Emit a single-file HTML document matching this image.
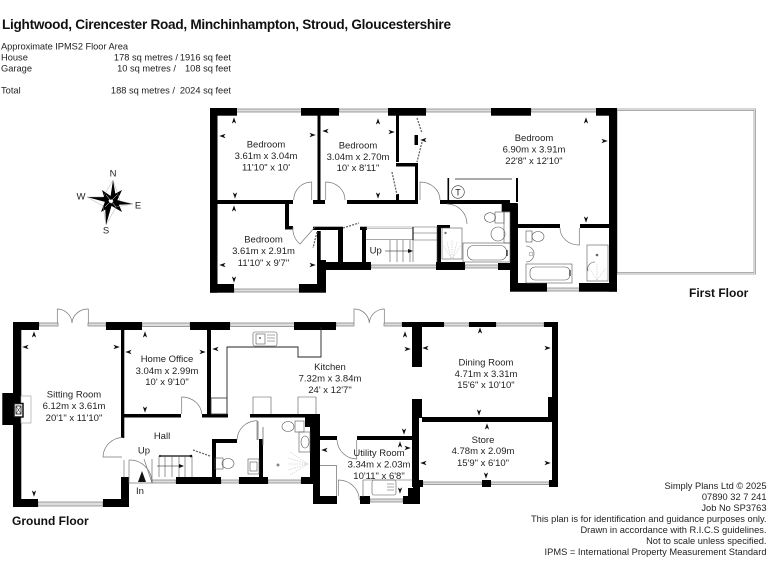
<!DOCTYPE html>
<html><head><meta charset="utf-8"><style>
html,body{margin:0;padding:0;background:#fff}
svg{display:block;filter:blur(.3px)}
text{font-family:"Liberation Sans",Arial,sans-serif;font-size:9.5px;fill:#222}
.c{text-anchor:middle}
.r{text-anchor:end}
.t{font-size:9.3px}
.b{font-weight:bold;fill:#111}
.w{fill:#000}
.win{fill:#ddd;stroke:#8a8a8a;stroke-width:.8}
.l{fill:none;stroke:#555;stroke-width:.6}
.d{fill:none;stroke:#777;stroke-width:.7}
.k{fill:none;stroke:#222;stroke-width:.9}
.ds{fill:none;stroke:#666;stroke-width:1.3;stroke-dasharray:2 1.2}
.ray{fill:none;stroke:#bbb;stroke-width:.5;stroke-dasharray:1.5 1}
</style></head><body>
<svg width="768" height="576" viewBox="0 0 768 576" xmlns="http://www.w3.org/2000/svg">
<rect width="768" height="576" fill="#fff"/>
<defs>
<path id="u" d="M-2.2 3.6L0 -2.8L2.2 3.6L0 1.9Z" fill="#111"/>
<path id="n" d="M-2.2 -3.6L0 2.8L2.2 -3.6L0 -1.9Z" fill="#111"/>
<path id="lf" d="M3.6 -2.2L-2.8 0L3.6 2.2L1.9 0Z" fill="#111"/>
<path id="rt" d="M-3.6 -2.2L2.8 0L-3.6 2.2L-1.9 0Z" fill="#111"/>
</defs>

<!-- header -->
<text x="2" y="29" class="b" style="font-size:13.6px;font-weight:bold" textLength="449" lengthAdjust="spacing">Lightwood, Cirencester Road, Minchinhampton, Stroud, Gloucestershire</text>
<text x="1" y="49.5" class="t" textLength="127">Approximate IPMS2 Floor Area</text>
<text x="1" y="60.5" class="t">House</text>
<text x="178" y="60.5" class="t r">178 sq metres /</text><text x="231" y="60.5" class="t r">1916 sq feet</text>
<text x="1" y="71.5" class="t">Garage</text>
<text x="176" y="71.5" class="t r">10 sq metres /</text><text x="231" y="71.5" class="t r">108 sq feet</text>
<text x="1" y="93.5" class="t">Total</text>
<text x="175" y="93.5" class="t r">188 sq metres /</text><text x="231" y="93.5" class="t r">2024 sq feet</text>

<!-- compass -->
<text x="113" y="176.5" class="c">N</text><text x="81" y="199.5" class="c">W</text><text x="138" y="208.5" class="c">E</text><text x="106" y="233.5" class="c">S</text>
<path d="M113 180L116 198L110 200ZM133 204L114 205L113 199ZM87 197L108 197L109 203ZM106 225L105 203L112 204Z" fill="#000"/>
<path d="M102 190L112 197L106 203ZM122 190L116 203L109 197ZM122 212L110 205L116 198ZM101 212L106 199L113 205Z" fill="#000"/>
<path d="M106 195L116 207M117 195L105 207" stroke="#fff" stroke-width=".5"/>
<path d="M113 180L120 201L133 204M87 197L103 206L106 225M113 180L103 197L87 197M133 204L116 207L106 225" fill="none" stroke="#999" stroke-width=".4"/>

<!-- terrace -->
<rect x="617" y="109" width="138.5" height="165" fill="none" stroke="#8a8a8a" stroke-width=".7"/>
<rect x="617" y="110.5" width="137" height="162" fill="none" stroke="#8a8a8a" stroke-width=".7"/>

<!-- FIRST FLOOR windows -->
<rect class="win" x="236" y="109" width="66" height="3"/>
<rect class="win" x="339" y="109" width="50" height="3"/>
<rect class="win" x="426" y="109" width="66" height="3"/>
<rect class="win" x="531" y="109" width="66" height="3"/>
<rect class="win" x="371" y="265" width="66" height="3"/>
<rect class="win" x="465" y="265" width="34" height="3"/>
<rect class="win" x="234" y="289" width="66" height="3"/>
<rect class="win" x="546" y="288" width="34" height="3"/>

<!-- FIRST FLOOR walls -->
<g class="w">
<rect x="210" y="108" width="27" height="7.7"/><rect x="301" y="108" width="38" height="7.7"/><rect x="388" y="108" width="38" height="7.7"/><rect x="491" y="108" width="40" height="7.7"/><rect x="596" y="108" width="21" height="7.7"/>
<rect x="210" y="108" width="7.5" height="184.7"/>
<rect x="609" y="108" width="8" height="183.7"/>
<rect x="210" y="284" width="24" height="8.7"/><rect x="299" y="284" width="27" height="8.7"/>
<rect x="510" y="283" width="37" height="8.7"/><rect x="579" y="283" width="38" height="8.7"/>
<rect x="510" y="263" width="8" height="28"/><rect x="510" y="204" width="8" height="62"/><rect x="501.7" y="203" width="16" height="8.7"/><rect x="498" y="263" width="20" height="7"/>
<rect x="518" y="224" width="42" height="4"/><rect x="580" y="224" width="29" height="4"/>
<rect x="447.5" y="178" width="1.6" height="24"/><rect x="516" y="178" width="2" height="24"/>
<rect x="440" y="200" width="70" height="4"/>
<rect x="210" y="200" width="83" height="4"/><rect x="313" y="200" width="12" height="4"/><rect x="347" y="200" width="71" height="4"/>
<rect x="317.5" y="115" width="3" height="85"/>
<rect x="396" y="115" width="3" height="47"/><rect x="396" y="163" width="22" height="3.5"/><rect x="415" y="163" width="3" height="41"/><rect x="396" y="194" width="3" height="6"/>
<rect x="414.5" y="135" width="3.5" height="10"/>
<rect x="285" y="204" width="4" height="25"/><rect x="285" y="226" width="8" height="3.5"/>
<rect x="313" y="226.7" width="30" height="3.3"/><rect x="360" y="226.7" width="7" height="3.3"/>
<rect x="317" y="231" width="3.7" height="30"/><rect x="317" y="260" width="9" height="32"/>
<rect x="338" y="230" width="5" height="33"/><rect x="362" y="228" width="4" height="35"/>
<rect x="320" y="262" width="51" height="8"/><rect x="436" y="262" width="29" height="8"/>
<rect x="437" y="225" width="4" height="37"/><rect x="437" y="225" width="13" height="3"/>
</g>

<!-- FIRST FLOOR doors -->
<path class="d" d="M311.7 200V182A18 18 0 0 0 293.7 200"/>
<path class="d" d="M325.7 200V182A19 18 0 0 1 345 200"/>
<path class="d" d="M420 200V182A20 18 0 0 1 440 200"/>
<path class="d" d="M447 204A20 20 0 0 1 467 224"/>
<path class="d" d="M293 227A19 19 0 0 0 300 244L315 227"/>
<path class="ds" d="M317 232L313 248M343 228L359 223M392 172L397 195M417 118L422 133M422 142L417 162"/>
<path class="d" d="M560 228A19 17 0 0 0 579.3 245V228"/>
<!-- wardrobe & T -->
<path d="M455 179H512" stroke="#777" stroke-width="1.2" fill="none"/>
<circle cx="458" cy="192" r="6.3" fill="#fff" stroke="#333" stroke-width=".6"/>
<text x="458" y="195.5" class="c" style="font-size:9px">T</text>
<!-- family bath sanitary -->
<rect class="l" x="463" y="243" width="47" height="19"/>
<rect class="l" x="467.5" y="245.5" width="39" height="14.5" rx="6"/>
<path d="M507 250v6" stroke="#333" stroke-width="1.4"/>
<rect class="l" x="495" y="212" width="9" height="11"/>
<ellipse class="l" cx="490" cy="217.5" rx="5.5" ry="4.8"/>
<rect class="l" x="504" y="212" width="6" height="31"/>
<circle class="l" cx="498" cy="234" r="7"/>
<rect class="l" x="442" y="228" width="20" height="31"/>
<circle cx="445.5" cy="233" r="1.2" fill="#777"/>
<path class="ray" d="M451 258L443 245M452 258V240M453 258L461 245M451 258L447 242M453 258L457 242"/>
<!-- ensuite sanitary -->
<rect class="l" x="526" y="231" width="6" height="11"/>
<ellipse class="l" cx="538" cy="236.5" rx="6" ry="5"/>
<path class="l" d="M526 246A8 8 0 0 1 526 262"/><circle cx="531" cy="254" r="2" fill="none" stroke="#777" stroke-width=".5"/>
<rect class="l" x="526" y="264" width="46" height="19"/>
<rect class="l" x="530" y="267" width="40" height="13" rx="5"/>
<path d="M570 270v6" stroke="#333" stroke-width="1.3"/>
<rect class="l" x="587" y="245" width="21" height="36"/>
<circle cx="597" cy="255" r="1.3" fill="#666"/>
<path class="l" d="M588 271A7 7 0 0 1 595 262"/>
<path class="ray" d="M597 280L589 268M597 280V264M597 280L606 268"/>
<!-- first stairs -->
<path d="M366 227H413M366 228.5H413" stroke="#888" stroke-width=".6"/>
<path class="l" d="M366 239.5H413M413 233H437M413 240H437M413 227H437"/>
<path d="M413 227V240" stroke="#333" stroke-width="1.3"/>
<path class="l" d="M390 240V262M397 240V262M403 240V262M410 240V262M437 227V262M413 240V262"/>
<path d="M385 251H411" stroke="#111" stroke-width=".6"/><path d="M408 249L413 251L408 253Z" fill="#111"/>
<text x="375.7" y="253.5" class="c">Up</text>

<!-- GROUND windows -->
<rect class="win" x="39" y="323" width="19" height="3"/><rect class="win" x="88" y="323" width="18" height="3"/>
<rect class="win" x="142" y="323" width="48" height="3.5"/>
<rect class="win" x="230" y="323" width="65" height="3.5"/>
<rect class="win" x="336" y="323" width="18" height="3"/><rect class="win" x="384" y="323" width="18" height="3"/>
<rect class="win" x="444" y="323" width="25" height="3"/><rect class="win" x="496" y="323" width="48" height="3"/>
<rect class="win" x="38" y="502" width="65" height="4"/>
<rect class="win" x="423" y="482" width="59" height="2.5"/><rect class="win" x="491" y="482" width="58" height="2.5"/>
<rect class="win" x="152" y="480" width="24" height="3"/>
<rect class="win" x="221" y="480" width="18" height="3"/>
<rect class="win" x="268" y="480" width="33" height="3"/>
<rect class="win" x="370" y="499" width="33" height="3"/>

<!-- GROUND walls -->
<g class="w">
<rect x="13" y="322" width="26" height="8"/><rect x="106" y="322" width="36" height="8"/><rect x="190" y="322" width="40" height="8"/><rect x="294" y="322" width="42" height="8"/>
<rect x="402" y="322" width="42" height="5"/><rect x="469" y="322" width="27" height="5"/><rect x="544" y="322" width="14" height="5"/>
<rect x="13" y="322" width="8.3" height="185"/>
<rect x="2.3" y="393" width="11" height="32"/>
<rect x="13" y="499" width="25" height="8"/><rect x="103" y="499" width="26" height="8"/>
<rect x="121" y="330" width="3.3" height="108"/><rect x="121" y="477" width="8" height="30"/>
<rect x="124" y="414" width="57" height="3.5"/><rect x="202" y="414" width="26" height="3.5"/>
<rect x="207" y="330" width="4" height="85"/>
<rect x="250" y="414" width="70" height="3.5"/>
<rect x="176" y="477" width="45" height="7"/><rect x="239" y="477" width="29" height="7"/><rect x="301" y="477" width="12" height="7"/>
<rect x="212" y="440" width="4" height="37"/><rect x="212" y="439" width="25" height="4"/>
<rect x="259" y="439" width="4" height="38"/>
<rect x="310" y="415" width="10" height="62"/><rect x="305" y="415" width="15" height="12"/>
<rect x="313" y="477" width="7" height="27"/><rect x="313" y="496" width="24" height="8"/>
<rect x="360" y="496" width="10" height="8"/><rect x="403" y="496" width="17" height="8"/>
<rect x="320" y="436" width="17" height="4"/><rect x="357" y="436" width="56" height="4"/>
<rect x="412" y="327" width="10" height="40"/><rect x="412" y="399" width="10" height="19"/><rect x="412" y="418" width="7" height="62"/>
<rect x="413" y="480" width="7" height="17"/><rect x="408" y="488" width="12" height="16"/>
<rect x="412" y="480" width="11" height="7"/><rect x="482" y="480" width="9" height="7"/><rect x="549" y="480" width="9" height="7"/>
<rect x="422" y="417" width="126" height="5"/>
<rect x="552" y="322" width="6" height="76"/><rect x="548" y="397" width="10" height="25"/><rect x="552" y="422" width="6" height="65"/>
</g>

<!-- GROUND doors -->
<path class="d" d="M57.3 323V309A15 15 0 0 1 72 323M88.3 323V309A16 15 0 0 0 72 323"/>
<path class="d" d="M354 323V309A15 15 0 0 1 369.3 323M384.3 323V309A15 15 0 0 0 369.3 323"/>
<path class="d" d="M122.7 437.5A20 20 0 0 0 103 457H122"/>
<path class="d" d="M181.7 414V397A20 18 0 0 1 201.7 414"/>
<path class="d" d="M237 440A20 20 0 0 1 257 420.7V440"/>
<path class="d" d="M337 440A20 20 0 0 0 356.7 459V440"/>
<path class="d" d="M338.3 496V480A21 20 0 0 1 359.3 500"/>
<path class="d" d="M124 460V477M129 460V483H152A22 23 0 0 0 129 460"/>
<path d="M142 471L146 482H138Z" fill="#111"/>
<path class="ds" d="M193 450L210 456"/>
<!-- fire -->
<rect x="21" y="396" width="10" height="27" fill="#fff" stroke="#999" stroke-width=".6"/>
<rect x="14" y="403.5" width="9" height="13.5" fill="#fff" stroke="#111" stroke-width="1.5"/>
<rect x="16" y="406" width="5" height="8" fill="none" stroke="#111" stroke-width=".8"/>
<path d="M16 406L21 414M21 406L16 414" stroke="#111" stroke-width=".5"/>
<!-- kitchen units -->
<path class="k" d="M227 414V347H298V357H321V327" stroke-width=".7"/>
<rect x="211" y="398" width="16" height="16" fill="none" stroke="#333" stroke-width=".8"/>
<path class="l" d="M253 414V397H271V414M298 414V397H316V414"/>
<rect x="253" y="332" width="24" height="14" rx="2" class="l"/>
<rect x="256" y="334" width="9" height="10" class="l"/>
<path class="l" d="M267 335H275M267 338H275M267 341H275"/><circle cx="260" cy="338" r="1" fill="#666"/>
<!-- hall stairs -->
<path d="M160 456H192" stroke="#333" stroke-width="1.4"/>
<path class="l" d="M152 483V459M159 456V477M165 456V477M172 456V477M179 456V477M185 456V477M192 456V477"/>
<path d="M157 466H181" stroke="#111" stroke-width=".6"/><path d="M179 464L184 466L179 468Z" fill="#111"/>
<path class="d" d="M144 459L152 483"/>
<circle cx="160" cy="456" r="1.1" fill="#333"/><circle cx="191" cy="456" r="1.3" fill="#111"/>
<!-- WC -->
<rect class="l" x="215" y="458" width="8" height="11"/><ellipse class="l" cx="228" cy="463.5" rx="6" ry="5"/>
<rect class="l" x="248" y="459" width="11" height="15"/><rect class="l" x="250" y="462" width="7" height="9"/>
<!-- shower room -->
<path d="M258 421V440" stroke="#888" stroke-width="1"/><path d="M263 427V445" stroke="#888" stroke-width="1"/>
<rect class="l" x="295" y="421" width="9" height="11"/><ellipse class="l" cx="288" cy="426.5" rx="6" ry="5"/>
<rect class="l" x="299" y="432" width="11" height="20"/><ellipse class="l" cx="305" cy="442" rx="4" ry="6"/>
<circle cx="278" cy="465" r="1.5" fill="#888"/>
<path class="ray" d="M308 464L290 452M308 464L288 458M308 464L288 464M308 464L288 470M308 464L290 475"/>
<!-- utility -->
<path class="l" d="M320 465.7H336.7V496M363 480H413M363 480V497"/>
<rect class="l" x="372" y="480" width="24" height="15" rx="2"/>
<path class="l" d="M387 484H394M387 487H394M387 490H394"/>

<!-- dimension markers -->
<use href="#u" x="234" y="120"/><use href="#u" x="378" y="121"/><use href="#u" x="586" y="120"/>
<use href="#n" x="235" y="196"/><use href="#n" x="378" y="196"/><use href="#n" x="586" y="220"/>
<use href="#u" x="234" y="208"/><use href="#n" x="234" y="280"/>
<use href="#lf" x="222" y="136"/><use href="#lf" x="325" y="131"/><use href="#lf" x="222" y="265"/>
<use href="#rt" x="605" y="141"/><use href="#rt" x="313" y="135"/><use href="#rt" x="392" y="132"/><use href="#rt" x="313" y="265"/><use href="#lf" x="423" y="140"/>
<use href="#u" x="34" y="334"/><use href="#u" x="145" y="334"/><use href="#n" x="34" y="494"/><use href="#n" x="145" y="410"/>
<use href="#lf" x="25" y="347"/><use href="#lf" x="128" y="352"/><use href="#rt" x="117" y="347"/><use href="#rt" x="203" y="352"/><use href="#lf" x="215" y="349"/>
<use href="#u" x="405" y="334"/><use href="#rt" x="408" y="349"/><use href="#lf" x="425" y="348"/><use href="#rt" x="548" y="348"/>
<use href="#u" x="480" y="330"/><use href="#n" x="479" y="413"/><use href="#u" x="487" y="426"/>
<use href="#lf" x="423" y="463"/><use href="#rt" x="548" y="463"/><use href="#n" x="486" y="476"/>
<use href="#n" x="404" y="432"/><use href="#u" x="400" y="444"/><use href="#rt" x="408" y="448"/><use href="#lf" x="324" y="450"/><use href="#n" x="400" y="491"/>

<!-- room labels -->
<text x="266" y="147.5" class="c">Bedroom</text><text x="266" y="159" class="c">3.61m x 3.04m</text><text x="266" y="170.5" class="c">11'10" x 10'</text>
<text x="358" y="148.5" class="c">Bedroom</text><text x="358" y="160" class="c">3.04m x 2.70m</text><text x="358" y="171" class="c">10' x 8'11"</text>
<text x="263.5" y="242.5" class="c">Bedroom</text><text x="263.5" y="254" class="c">3.61m x 2.91m</text><text x="263.5" y="266" class="c">11'10" x 9'7"</text>
<text x="534" y="141" class="c">Bedroom</text><text x="534" y="152.5" class="c">6.90m x 3.91m</text><text x="534" y="164" class="c">22'8" x 12'10"</text>
<text x="74" y="397.5" class="c">Sitting Room</text><text x="74" y="409" class="c">6.12m x 3.61m</text><text x="74" y="421" class="c">20'1" x 11'10"</text>
<text x="167" y="362" class="c">Home Office</text><text x="167" y="374" class="c">3.04m x 2.99m</text><text x="167" y="385" class="c">10' x 9'10"</text>
<text x="162" y="439" class="c">Hall</text><text x="144" y="453.5" class="c">Up</text><text x="140" y="494" class="c">In</text>
<text x="330" y="370" class="c">Kitchen</text><text x="330" y="381.5" class="c">7.32m x 3.84m</text><text x="330" y="393" class="c">24' x 12'7"</text>
<text x="379" y="456" class="c">Utility Room</text><text x="379" y="467.5" class="c">3.34m x 2.03m</text><text x="379" y="479" class="c">10'11" x 6'8"</text>
<text x="486" y="365.5" class="c">Dining Room</text><text x="486" y="377" class="c">4.71m x 3.31m</text><text x="486" y="388" class="c">15'6" x 10'10"</text>
<text x="483" y="443" class="c">Store</text><text x="483" y="454" class="c">4.78m x 2.09m</text><text x="483" y="466" class="c">15'9" x 6'10"</text>

<text x="689" y="297" class="b" style="font-size:12px;font-weight:bold">First Floor</text>
<text x="12" y="525" class="b" style="font-size:12px;font-weight:bold">Ground Floor</text>

<!-- footer -->
<g text-anchor="end">
<text x="766.5" y="489" class="t r">Simply Plans Ltd © 2025</text>
<text x="766.5" y="500" class="t r">07890 32 7 241</text>
<text x="766.5" y="511" class="t r">Job No SP3763</text>
<text x="766.5" y="522" class="t r">This plan is for identification and guidance purposes only.</text>
<text x="766.5" y="533" class="t r">Drawn in accordance with R.I.C.S guidelines.</text>
<text x="766.5" y="544" class="t r">Not to scale unless specified.</text>
<text x="766.5" y="555" class="t r">IPMS = International Property Measurement Standard</text>
</g>
</svg>
</body></html>
